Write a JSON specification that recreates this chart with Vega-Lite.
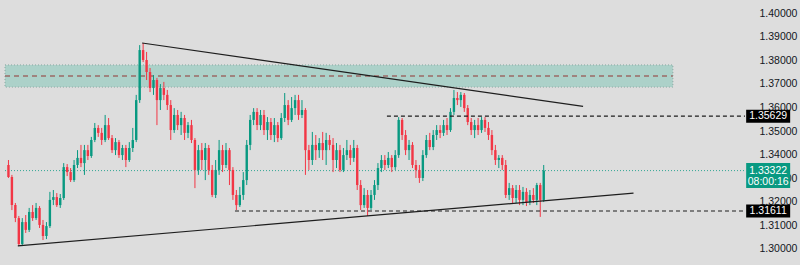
{
  "$schema": "https://vega.github.io/schema/vega-lite/v6.json",
  "width": 750,
  "height": 265,
  "autosize": {"type": "none"},
  "padding": {"left": 0, "top": 0, "right": 50, "bottom": 0},
  "background": "#dddddd",
  "config": {
    "view": {"stroke": null},
    "axisX": {"disable": true},
    "axisY": {"domain": false, "ticks": false, "grid": false, "labelAlign": "left", "labelPadding": 9, "labelFont": "Liberation Sans", "labelFontSize": 10.5, "labelColor": "#131722", "labelBaseline": "middle", "labelOverlap": false}
  },
  "datasets": {
    "candles": [
      {"i":1,"o":1.3356,"h":1.3377,"l":1.3301,"c":1.3305},
      {"i":2,"o":1.3305,"h":1.3314,"l":1.3165,"c":1.3186},
      {"i":3,"o":1.3186,"h":1.3195,"l":1.3114,"c":1.3131},
      {"i":4,"o":1.3131,"h":1.3140,"l":1.3013,"c":1.3021},
      {"i":5,"o":1.3021,"h":1.3131,"l":1.3017,"c":1.3114},
      {"i":6,"o":1.3114,"h":1.3144,"l":1.3068,"c":1.3081},
      {"i":7,"o":1.3081,"h":1.3174,"l":1.3072,"c":1.3157},
      {"i":8,"o":1.3157,"h":1.3186,"l":1.3119,"c":1.3131},
      {"i":9,"o":1.3131,"h":1.3195,"l":1.3123,"c":1.3174},
      {"i":10,"o":1.3174,"h":1.3182,"l":1.3089,"c":1.3102},
      {"i":11,"o":1.3102,"h":1.3123,"l":1.3038,"c":1.3055},
      {"i":12,"o":1.3055,"h":1.3114,"l":1.3042,"c":1.3097},
      {"i":13,"o":1.3097,"h":1.3242,"l":1.3089,"c":1.3208},
      {"i":14,"o":1.3208,"h":1.3250,"l":1.3186,"c":1.3220},
      {"i":15,"o":1.3220,"h":1.3237,"l":1.3178,"c":1.3186},
      {"i":16,"o":1.3186,"h":1.3233,"l":1.3174,"c":1.3216},
      {"i":17,"o":1.3216,"h":1.3364,"l":1.3208,"c":1.3347},
      {"i":18,"o":1.3347,"h":1.3360,"l":1.3309,"c":1.3326},
      {"i":19,"o":1.3326,"h":1.3343,"l":1.3284,"c":1.3292},
      {"i":20,"o":1.3292,"h":1.3377,"l":1.3284,"c":1.3356},
      {"i":21,"o":1.3356,"h":1.3419,"l":1.3343,"c":1.3386},
      {"i":22,"o":1.3386,"h":1.3441,"l":1.3347,"c":1.3364},
      {"i":23,"o":1.3364,"h":1.3441,"l":1.3314,"c":1.3419},
      {"i":24,"o":1.3419,"h":1.3441,"l":1.3377,"c":1.3394},
      {"i":25,"o":1.3394,"h":1.3475,"l":1.3386,"c":1.3462},
      {"i":26,"o":1.3462,"h":1.3534,"l":1.3453,"c":1.3513},
      {"i":27,"o":1.3513,"h":1.3525,"l":1.3475,"c":1.3492},
      {"i":28,"o":1.3492,"h":1.3513,"l":1.3441,"c":1.3462},
      {"i":29,"o":1.3462,"h":1.3568,"l":1.3453,"c":1.3525},
      {"i":30,"o":1.3525,"h":1.3555,"l":1.3462,"c":1.3470},
      {"i":31,"o":1.3470,"h":1.3483,"l":1.3407,"c":1.3419},
      {"i":32,"o":1.3419,"h":1.3470,"l":1.3398,"c":1.3453},
      {"i":33,"o":1.3453,"h":1.3462,"l":1.3386,"c":1.3398},
      {"i":34,"o":1.3398,"h":1.3441,"l":1.3377,"c":1.3428},
      {"i":35,"o":1.3428,"h":1.3441,"l":1.3347,"c":1.3377},
      {"i":36,"o":1.3377,"h":1.3453,"l":1.3369,"c":1.3428},
      {"i":37,"o":1.3428,"h":1.3513,"l":1.3411,"c":1.3462},
      {"i":38,"o":1.3462,"h":1.3653,"l":1.3453,"c":1.3631},
      {"i":39,"o":1.3631,"h":1.3864,"l":1.3619,"c":1.3843},
      {"i":40,"o":1.3843,"h":1.3873,"l":1.3792,"c":1.3801},
      {"i":41,"o":1.3801,"h":1.3835,"l":1.3716,"c":1.3750},
      {"i":42,"o":1.3750,"h":1.3767,"l":1.3665,"c":1.3682},
      {"i":43,"o":1.3682,"h":1.3737,"l":1.3653,"c":1.3716},
      {"i":44,"o":1.3716,"h":1.3725,"l":1.3525,"c":1.3631},
      {"i":45,"o":1.3631,"h":1.3699,"l":1.3589,"c":1.3682},
      {"i":46,"o":1.3682,"h":1.3708,"l":1.3631,"c":1.3653},
      {"i":47,"o":1.3653,"h":1.3674,"l":1.3589,"c":1.3610},
      {"i":48,"o":1.3610,"h":1.3631,"l":1.3462,"c":1.3504},
      {"i":49,"o":1.3504,"h":1.3597,"l":1.3492,"c":1.3568},
      {"i":50,"o":1.3568,"h":1.3589,"l":1.3504,"c":1.3525},
      {"i":51,"o":1.3525,"h":1.3581,"l":1.3483,"c":1.3555},
      {"i":52,"o":1.3555,"h":1.3568,"l":1.3462,"c":1.3492},
      {"i":53,"o":1.3492,"h":1.3538,"l":1.3470,"c":1.3525},
      {"i":54,"o":1.3525,"h":1.3547,"l":1.3449,"c":1.3462},
      {"i":55,"o":1.3462,"h":1.3470,"l":1.3258,"c":1.3335},
      {"i":56,"o":1.3335,"h":1.3441,"l":1.3314,"c":1.3419},
      {"i":57,"o":1.3419,"h":1.3449,"l":1.3335,"c":1.3377},
      {"i":58,"o":1.3377,"h":1.3449,"l":1.3292,"c":1.3428},
      {"i":59,"o":1.3428,"h":1.3441,"l":1.3314,"c":1.3335},
      {"i":60,"o":1.3335,"h":1.3356,"l":1.3220,"c":1.3229},
      {"i":61,"o":1.3229,"h":1.3377,"l":1.3216,"c":1.3335},
      {"i":62,"o":1.3335,"h":1.3462,"l":1.3314,"c":1.3419},
      {"i":63,"o":1.3419,"h":1.3441,"l":1.3326,"c":1.3356},
      {"i":64,"o":1.3356,"h":1.3449,"l":1.3343,"c":1.3419},
      {"i":65,"o":1.3419,"h":1.3428,"l":1.3271,"c":1.3335},
      {"i":66,"o":1.3335,"h":1.3347,"l":1.3208,"c":1.3229},
      {"i":67,"o":1.3229,"h":1.3250,"l":1.3165,"c":1.3186},
      {"i":68,"o":1.3186,"h":1.3263,"l":1.3178,"c":1.3229},
      {"i":69,"o":1.3229,"h":1.3326,"l":1.3208,"c":1.3292},
      {"i":70,"o":1.3292,"h":1.3462,"l":1.3271,"c":1.3441},
      {"i":71,"o":1.3441,"h":1.3568,"l":1.3419,"c":1.3547},
      {"i":72,"o":1.3547,"h":1.3597,"l":1.3525,"c":1.3581},
      {"i":73,"o":1.3581,"h":1.3597,"l":1.3504,"c":1.3525},
      {"i":74,"o":1.3525,"h":1.3589,"l":1.3504,"c":1.3568},
      {"i":75,"o":1.3568,"h":1.3589,"l":1.3483,"c":1.3504},
      {"i":76,"o":1.3504,"h":1.3559,"l":1.3462,"c":1.3538},
      {"i":77,"o":1.3538,"h":1.3555,"l":1.3462,"c":1.3483},
      {"i":78,"o":1.3483,"h":1.3555,"l":1.3453,"c":1.3525},
      {"i":79,"o":1.3525,"h":1.3538,"l":1.3453,"c":1.3470},
      {"i":80,"o":1.3470,"h":1.3576,"l":1.3462,"c":1.3555},
      {"i":81,"o":1.3555,"h":1.3661,"l":1.3538,"c":1.3610},
      {"i":82,"o":1.3610,"h":1.3631,"l":1.3525,"c":1.3547},
      {"i":83,"o":1.3547,"h":1.3644,"l":1.3538,"c":1.3597},
      {"i":84,"o":1.3597,"h":1.3653,"l":1.3568,"c":1.3631},
      {"i":85,"o":1.3631,"h":1.3653,"l":1.3547,"c":1.3568},
      {"i":86,"o":1.3568,"h":1.3631,"l":1.3555,"c":1.3589},
      {"i":87,"o":1.3589,"h":1.3597,"l":1.3314,"c":1.3419},
      {"i":88,"o":1.3419,"h":1.3441,"l":1.3335,"c":1.3377},
      {"i":89,"o":1.3377,"h":1.3496,"l":1.3356,"c":1.3441},
      {"i":90,"o":1.3441,"h":1.3483,"l":1.3377,"c":1.3419},
      {"i":91,"o":1.3419,"h":1.3470,"l":1.3386,"c":1.3449},
      {"i":92,"o":1.3449,"h":1.3496,"l":1.3377,"c":1.3419},
      {"i":93,"o":1.3419,"h":1.3492,"l":1.3356,"c":1.3462},
      {"i":94,"o":1.3462,"h":1.3483,"l":1.3419,"c":1.3441},
      {"i":95,"o":1.3441,"h":1.3470,"l":1.3326,"c":1.3377},
      {"i":96,"o":1.3377,"h":1.3449,"l":1.3343,"c":1.3419},
      {"i":97,"o":1.3419,"h":1.3441,"l":1.3326,"c":1.3335},
      {"i":98,"o":1.3335,"h":1.3428,"l":1.3326,"c":1.3398},
      {"i":99,"o":1.3398,"h":1.3462,"l":1.3377,"c":1.3419},
      {"i":100,"o":1.3419,"h":1.3441,"l":1.3356,"c":1.3386},
      {"i":101,"o":1.3386,"h":1.3462,"l":1.3369,"c":1.3428},
      {"i":102,"o":1.3428,"h":1.3441,"l":1.3250,"c":1.3271},
      {"i":103,"o":1.3271,"h":1.3292,"l":1.3165,"c":1.3186},
      {"i":104,"o":1.3186,"h":1.3258,"l":1.3174,"c":1.3229},
      {"i":105,"o":1.3229,"h":1.3250,"l":1.3140,"c":1.3174},
      {"i":106,"o":1.3174,"h":1.3250,"l":1.3165,"c":1.3229},
      {"i":107,"o":1.3229,"h":1.3292,"l":1.3208,"c":1.3271},
      {"i":108,"o":1.3271,"h":1.3364,"l":1.3250,"c":1.3343},
      {"i":109,"o":1.3343,"h":1.3398,"l":1.3326,"c":1.3377},
      {"i":110,"o":1.3377,"h":1.3398,"l":1.3335,"c":1.3356},
      {"i":111,"o":1.3356,"h":1.3411,"l":1.3343,"c":1.3386},
      {"i":112,"o":1.3386,"h":1.3398,"l":1.3326,"c":1.3347},
      {"i":113,"o":1.3347,"h":1.3419,"l":1.3335,"c":1.3398},
      {"i":114,"o":1.3398,"h":1.3559,"l":1.3386,"c":1.3547},
      {"i":115,"o":1.3547,"h":1.3555,"l":1.3462,"c":1.3483},
      {"i":116,"o":1.3483,"h":1.3504,"l":1.3398,"c":1.3419},
      {"i":117,"o":1.3419,"h":1.3462,"l":1.3377,"c":1.3441},
      {"i":118,"o":1.3441,"h":1.3453,"l":1.3343,"c":1.3356},
      {"i":119,"o":1.3356,"h":1.3377,"l":1.3301,"c":1.3335},
      {"i":120,"o":1.3335,"h":1.3356,"l":1.3280,"c":1.3301},
      {"i":121,"o":1.3301,"h":1.3419,"l":1.3288,"c":1.3398},
      {"i":122,"o":1.3398,"h":1.3483,"l":1.3386,"c":1.3462},
      {"i":123,"o":1.3462,"h":1.3492,"l":1.3419,"c":1.3432},
      {"i":124,"o":1.3432,"h":1.3504,"l":1.3419,"c":1.3483},
      {"i":125,"o":1.3483,"h":1.3525,"l":1.3462,"c":1.3504},
      {"i":126,"o":1.3504,"h":1.3525,"l":1.3470,"c":1.3492},
      {"i":127,"o":1.3492,"h":1.3547,"l":1.3479,"c":1.3525},
      {"i":128,"o":1.3525,"h":1.3555,"l":1.3483,"c":1.3504},
      {"i":129,"o":1.3504,"h":1.3597,"l":1.3496,"c":1.3581},
      {"i":130,"o":1.3581,"h":1.3674,"l":1.3568,"c":1.3640},
      {"i":131,"o":1.3640,"h":1.3665,"l":1.3610,"c":1.3631},
      {"i":132,"o":1.3631,"h":1.3665,"l":1.3602,"c":1.3653},
      {"i":133,"o":1.3653,"h":1.3661,"l":1.3581,"c":1.3597},
      {"i":134,"o":1.3597,"h":1.3610,"l":1.3525,"c":1.3538},
      {"i":135,"o":1.3538,"h":1.3555,"l":1.3483,"c":1.3504},
      {"i":136,"o":1.3504,"h":1.3547,"l":1.3470,"c":1.3525},
      {"i":137,"o":1.3525,"h":1.3555,"l":1.3483,"c":1.3504},
      {"i":138,"o":1.3504,"h":1.3559,"l":1.3492,"c":1.3547},
      {"i":139,"o":1.3547,"h":1.3559,"l":1.3496,"c":1.3513},
      {"i":140,"o":1.3513,"h":1.3538,"l":1.3462,"c":1.3483},
      {"i":141,"o":1.3483,"h":1.3504,"l":1.3398,"c":1.3419},
      {"i":142,"o":1.3419,"h":1.3441,"l":1.3356,"c":1.3377},
      {"i":143,"o":1.3377,"h":1.3398,"l":1.3343,"c":1.3386},
      {"i":144,"o":1.3386,"h":1.3398,"l":1.3335,"c":1.3356},
      {"i":145,"o":1.3356,"h":1.3377,"l":1.3216,"c":1.3229},
      {"i":146,"o":1.3229,"h":1.3280,"l":1.3208,"c":1.3258},
      {"i":147,"o":1.3258,"h":1.3271,"l":1.3195,"c":1.3216},
      {"i":148,"o":1.3216,"h":1.3271,"l":1.3195,"c":1.3250},
      {"i":149,"o":1.3250,"h":1.3271,"l":1.3186,"c":1.3208},
      {"i":150,"o":1.3208,"h":1.3263,"l":1.3186,"c":1.3242},
      {"i":151,"o":1.3242,"h":1.3258,"l":1.3182,"c":1.3199},
      {"i":152,"o":1.3199,"h":1.3250,"l":1.3186,"c":1.3229},
      {"i":153,"o":1.3229,"h":1.3258,"l":1.3195,"c":1.3208},
      {"i":154,"o":1.3208,"h":1.3280,"l":1.3186,"c":1.3271},
      {"i":155,"o":1.3271,"h":1.3280,"l":1.3136,"c":1.3208},
      {"i":156,"o":1.3208,"h":1.3356,"l":1.3199,"c":1.33322}
    ],
    "zone": [{"x1": 0, "x2": 193.4, "p1": 1.3686, "p2": 1.3780}],
    "zonemid": [{"x": 0, "p": 1.3733}, {"x": 193.4, "p": 1.3733}],
    "trend": [
      {"g": "upper", "x": 39.71, "p": 1.3873},
      {"g": "upper", "x": 167.4, "p": 1.3604},
      {"g": "lower", "x": 3.71, "p": 1.3013},
      {"g": "lower", "x": 182.0, "p": 1.3237}
    ],
    "levels": [
      {"g": "res", "x": 110.6, "p": 1.35629},
      {"g": "res", "x": 214.29, "p": 1.35629},
      {"g": "sup", "x": 66.6, "p": 1.31611},
      {"g": "sup", "x": 214.29, "p": 1.31611}
    ],
    "last": [{"x": 0, "p": 1.33322}, {"x": 214.29, "p": 1.33322}],
    "tags": [
      {"t": "1.35629", "p": 1.35629},
      {"t": "1.31611", "p": 1.31611}
    ],
    "price": [{"t": "1.33322", "u": "08:00:16", "p": 1.33322}]
  },
  "layer": [
    {
      "data": {"name": "zone"},
      "mark": {"type": "rect", "fill": "#acd1c9", "stroke": "#8aa8a2", "strokeWidth": 1, "strokeDash": [1, 2]},
      "encoding": {
        "x": {"field": "x1", "type": "quantitative", "scale": {"domain": [0, 214.29], "nice": false, "zero": false}},
        "x2": {"field": "x2"},
        "y": {"field": "p1", "type": "quantitative", "scale": {"domain": [1.29322, 1.40551], "nice": false, "zero": false}, "axis": {"orient": "right", "values": [1.30, 1.31, 1.32, 1.33, 1.34, 1.35, 1.36, 1.37, 1.38, 1.39, 1.40], "format": ".5f", "title": null, "labelOverlap": false}},
        "y2": {"field": "p2"}
      }
    },
    {
      "data": {"name": "zonemid"},
      "mark": {"type": "line", "color": "#9a6a66", "strokeWidth": 1.5, "strokeDash": [5, 4]},
      "encoding": {
        "x": {"field": "x", "type": "quantitative"},
        "y": {"field": "p", "type": "quantitative", "axis": {"orient": "right", "values": [1.30, 1.31, 1.32, 1.33, 1.34, 1.35, 1.36, 1.37, 1.38, 1.39, 1.40], "format": ".5f", "title": null, "labelOverlap": false}}
      }
    },
    {
      "data": {"name": "last"},
      "mark": {"type": "line", "color": "#089981", "strokeWidth": 1, "strokeDash": [1, 2], "opacity": 0.8},
      "encoding": {
        "x": {"field": "x", "type": "quantitative"},
        "y": {"field": "p", "type": "quantitative", "axis": {"orient": "right", "values": [1.30, 1.31, 1.32, 1.33, 1.34, 1.35, 1.36, 1.37, 1.38, 1.39, 1.40], "format": ".5f", "title": null, "labelOverlap": false}}
      }
    },
    {
      "data": {"name": "candles"},
      "mark": {"type": "rule", "strokeWidth": 1},
      "encoding": {
        "x": {"field": "i", "type": "quantitative"},
        "y": {"field": "l", "type": "quantitative", "axis": {"orient": "right", "values": [1.30, 1.31, 1.32, 1.33, 1.34, 1.35, 1.36, 1.37, 1.38, 1.39, 1.40], "format": ".5f", "title": null, "labelOverlap": false}},
        "y2": {"field": "h"},
        "color": {"condition": {"test": "datum.c >= datum.o", "value": "#089981"}, "value": "#f23645"}
      }
    },
    {
      "data": {"name": "candles"},
      "mark": {"type": "bar", "width": 2.4},
      "encoding": {
        "x": {"field": "i", "type": "quantitative"},
        "y": {"field": "o", "type": "quantitative", "axis": {"orient": "right", "values": [1.30, 1.31, 1.32, 1.33, 1.34, 1.35, 1.36, 1.37, 1.38, 1.39, 1.40], "format": ".5f", "title": null, "labelOverlap": false}},
        "y2": {"field": "c"},
        "color": {"condition": {"test": "datum.c >= datum.o", "value": "#089981"}, "value": "#f23645"}
      }
    },
    {
      "data": {"name": "trend"},
      "mark": {"type": "line", "color": "#1e1e1e", "strokeWidth": 1.2},
      "encoding": {
        "x": {"field": "x", "type": "quantitative"},
        "y": {"field": "p", "type": "quantitative", "axis": {"orient": "right", "values": [1.30, 1.31, 1.32, 1.33, 1.34, 1.35, 1.36, 1.37, 1.38, 1.39, 1.40], "format": ".5f", "title": null, "labelOverlap": false}},
        "detail": {"field": "g"}
      }
    },
    {
      "data": {"name": "levels"},
      "mark": {"type": "line", "color": "#1e1e1e", "strokeWidth": 1.2, "strokeDash": [4, 3]},
      "encoding": {
        "x": {"field": "x", "type": "quantitative"},
        "y": {"field": "p", "type": "quantitative", "axis": {"orient": "right", "values": [1.30, 1.31, 1.32, 1.33, 1.34, 1.35, 1.36, 1.37, 1.38, 1.39, 1.40], "format": ".5f", "title": null, "labelOverlap": false}},
        "detail": {"field": "g"}
      }
    },
    {
      "data": {"name": "tags"},
      "mark": {"type": "rect", "width": 44, "height": 13, "fill": "#000000"},
      "encoding": {
        "x": {"datum": 221.0, "type": "quantitative"},
        "y": {"field": "p", "type": "quantitative", "axis": {"orient": "right", "values": [1.30, 1.31, 1.32, 1.33, 1.34, 1.35, 1.36, 1.37, 1.38, 1.39, 1.40], "format": ".5f", "title": null, "labelOverlap": false}}
      }
    },
    {
      "data": {"name": "tags"},
      "mark": {"type": "text", "color": "#ffffff", "font": "Liberation Sans", "fontSize": 10.5, "align": "center", "baseline": "middle"},
      "encoding": {
        "x": {"datum": 221.0, "type": "quantitative"},
        "y": {"field": "p", "type": "quantitative", "axis": {"orient": "right", "values": [1.30, 1.31, 1.32, 1.33, 1.34, 1.35, 1.36, 1.37, 1.38, 1.39, 1.40], "format": ".5f", "title": null, "labelOverlap": false}},
        "text": {"field": "t"}
      }
    },
    {
      "data": {"name": "price"},
      "mark": {"type": "rect", "width": 44, "height": 25, "fill": "#089981", "yOffset": 5},
      "encoding": {
        "x": {"datum": 221.0, "type": "quantitative"},
        "y": {"field": "p", "type": "quantitative", "axis": {"orient": "right", "values": [1.30, 1.31, 1.32, 1.33, 1.34, 1.35, 1.36, 1.37, 1.38, 1.39, 1.40], "format": ".5f", "title": null, "labelOverlap": false}}
      }
    },
    {
      "data": {"name": "price"},
      "mark": {"type": "text", "color": "#ffffff", "font": "Liberation Sans", "fontSize": 10.5, "align": "center", "baseline": "middle"},
      "encoding": {
        "x": {"datum": 221.0, "type": "quantitative"},
        "y": {"field": "p", "type": "quantitative", "axis": {"orient": "right", "values": [1.30, 1.31, 1.32, 1.33, 1.34, 1.35, 1.36, 1.37, 1.38, 1.39, 1.40], "format": ".5f", "title": null, "labelOverlap": false}},
        "text": {"field": "t"}
      }
    },
    {
      "data": {"name": "price"},
      "mark": {"type": "text", "color": "#ffffff", "font": "Liberation Sans", "fontSize": 10.5, "align": "center", "baseline": "middle", "dy": 11},
      "encoding": {
        "x": {"datum": 221.0, "type": "quantitative"},
        "y": {"field": "p", "type": "quantitative", "axis": {"orient": "right", "values": [1.30, 1.31, 1.32, 1.33, 1.34, 1.35, 1.36, 1.37, 1.38, 1.39, 1.40], "format": ".5f", "title": null, "labelOverlap": false}},
        "text": {"field": "u"}
      }
    }
  ]
}
